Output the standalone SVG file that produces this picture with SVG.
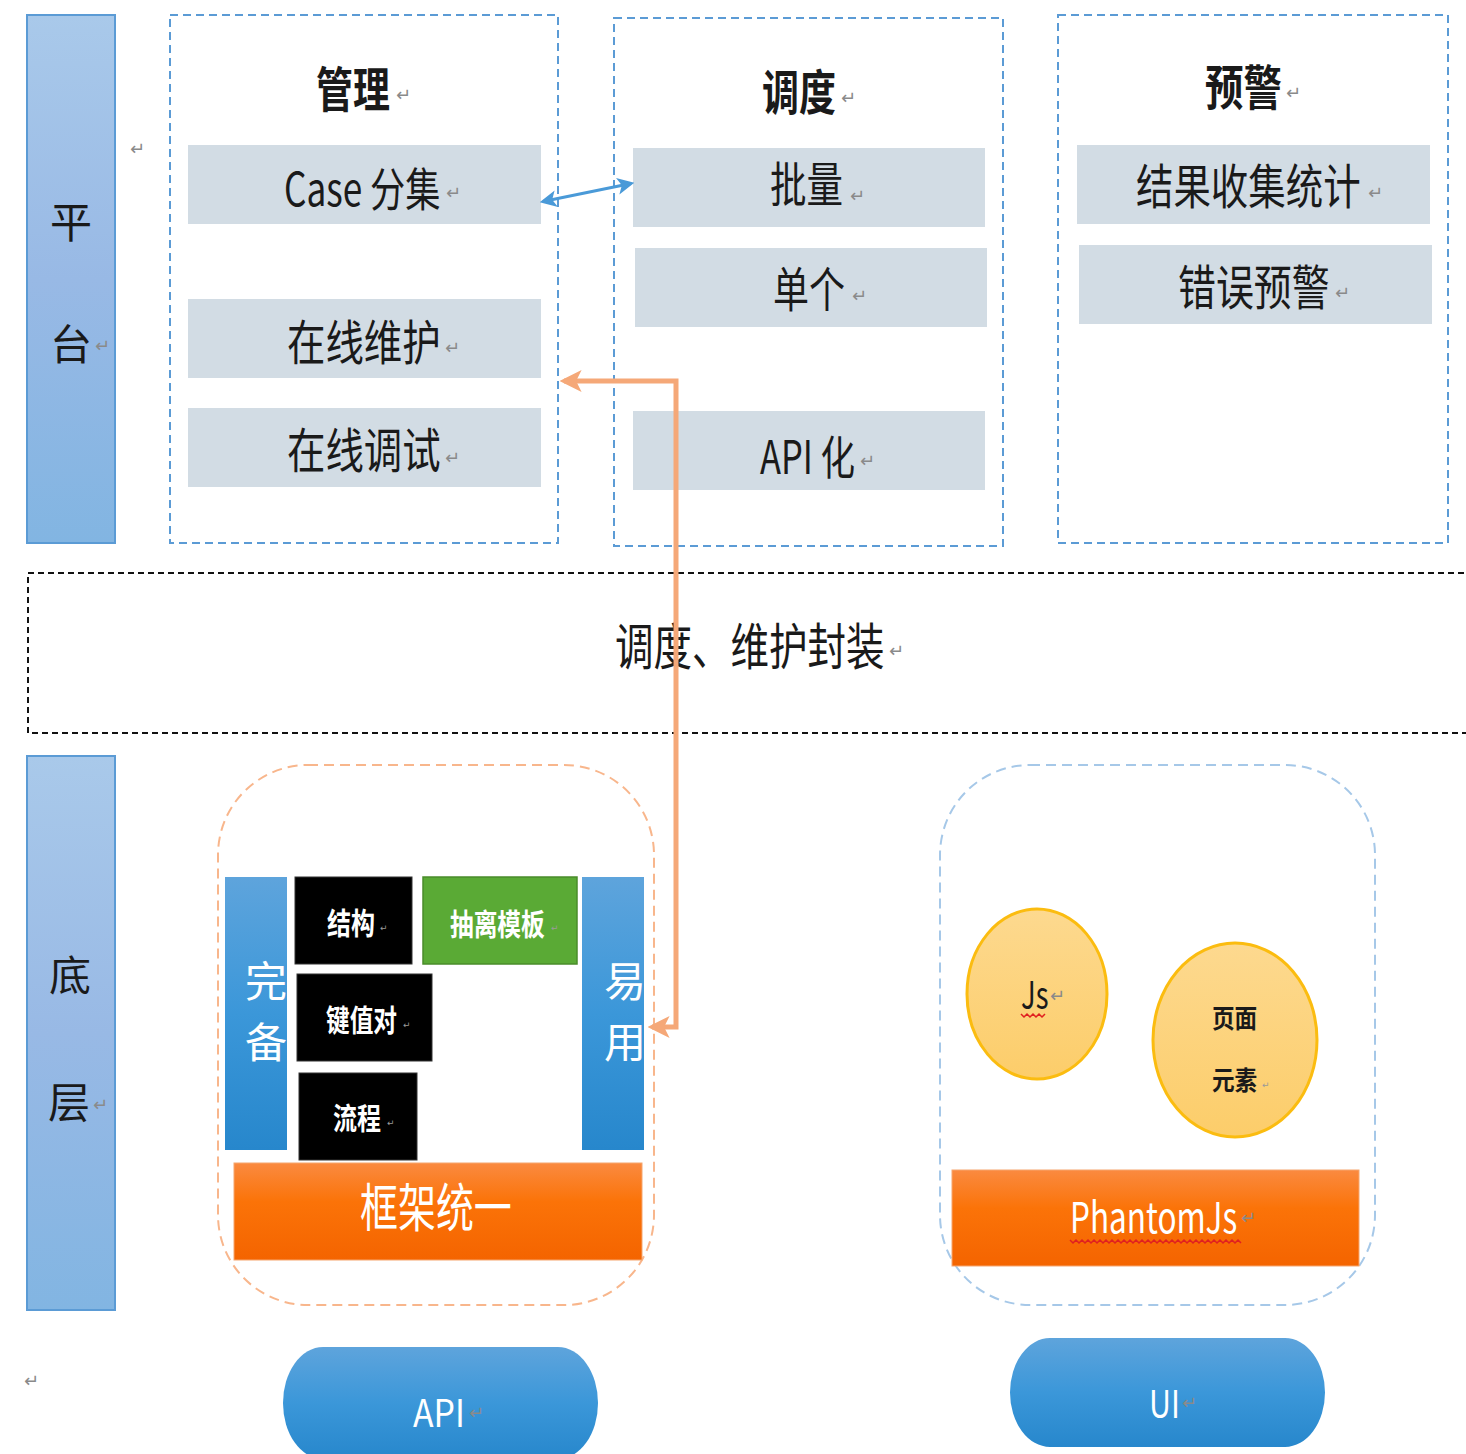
<svg xmlns="http://www.w3.org/2000/svg" width="1466" height="1454" viewBox="0 0 1466 1454">
<defs>
<linearGradient id="gBar" x1="0" y1="0" x2="0" y2="1"><stop offset="0" stop-color="#a9c9ea"/><stop offset="0.5" stop-color="#98b9e5"/><stop offset="1" stop-color="#82b5e2"/></linearGradient>
<linearGradient id="gBlue" x1="0" y1="0" x2="0" y2="1"><stop offset="0" stop-color="#5ea4dc"/><stop offset="0.5" stop-color="#3b97d9"/><stop offset="1" stop-color="#2787cc"/></linearGradient>
<linearGradient id="gOrange" x1="0" y1="0" x2="0" y2="1"><stop offset="0" stop-color="#fa8a40"/><stop offset="0.4" stop-color="#fb7308"/><stop offset="1" stop-color="#f46400"/></linearGradient>
<linearGradient id="gYellow" x1="0" y1="0" x2="0" y2="1"><stop offset="0" stop-color="#fdd98f"/><stop offset="1" stop-color="#fccd6a"/></linearGradient>
<marker id="ao" viewBox="0 0 10 10" refX="8" refY="5" markerWidth="22" markerHeight="24" markerUnits="userSpaceOnUse" orient="auto-start-reverse"><path d="M0,0 L10,5 L0,10 L2.5,5 Z" fill="#f5a878"/></marker>
<marker id="ab" viewBox="0 0 10 10" refX="8" refY="5" markerWidth="17" markerHeight="17" markerUnits="userSpaceOnUse" orient="auto-start-reverse"><path d="M0,0 L10,5 L0,10 L2.5,5 Z" fill="#4a9ad8"/></marker>
</defs>
<style>
.t{font-family:"Noto Sans CJK SC","Noto Sans",sans-serif;fill:#1a1a1a;dominant-baseline:central}
.w{fill:#ffffff}
.b{font-weight:700}
.pm{font-family:"DejaVu Sans","Noto Sans",sans-serif;fill:#8a8a8a;font-size:18px;dominant-baseline:central}
.pms{font-family:"DejaVu Sans","Noto Sans",sans-serif;fill:#9a9a9a;font-size:9px;dominant-baseline:central}
.grey{fill:#d2dce4}
.col{fill:none;stroke:#5b9bd5;stroke-width:2;stroke-dasharray:8 5}
.side{fill:url(#gBar);stroke:#5b9bd5;stroke-width:2}
.blk{fill:#000;stroke:#333;stroke-width:1}
.vblue{fill:url(#gBlue)}
.org{fill:url(#gOrange);stroke:#f6a66e;stroke-width:1}
.ell{fill:url(#gYellow);stroke:#fbbc10;stroke-width:3}
.sq{fill:none;stroke:#e02020;stroke-width:1.5}
</style>
<rect width="1466" height="1454" fill="#ffffff"/>

<g id="platform">
<rect class="side" x="27" y="15" width="88" height="528"/>
<text class="t" x="71" y="219" font-size="42" text-anchor="middle">平</text>
<text class="t" x="50" y="341" font-size="42">台</text>
<text class="pm" x="95" y="345">↵</text>
</g>
<text class="pm" x="130" y="148">↵</text>

<g id="manage">
<rect class="col" x="170" y="15" width="388" height="528"/>
<text class="t b" transform="translate(316,86) scale(0.77,1)" font-size="48">管理</text>
<text class="pm" x="396" y="94">↵</text>
</g>
<g id="case">
<rect class="grey" x="188" y="145" width="353" height="79"/>
<text class="t" transform="translate(284,186) scale(0.765,1)" font-size="46">Case 分集</text>
<text class="pm" x="446" y="192">↵</text>
</g>
<g id="online-maint">
<rect class="grey" x="188" y="299" width="353" height="79"/>
<text class="t" transform="translate(287,340) scale(0.8,1)" font-size="48">在线维护</text>
<text class="pm" x="445" y="347">↵</text>
</g>
<g id="online-debug">
<rect class="grey" x="188" y="408" width="353" height="79"/>
<text class="t" transform="translate(287,448) scale(0.8,1)" font-size="48">在线调试</text>
<text class="pm" x="445" y="457">↵</text>
</g>

<g id="schedule">
<rect class="col" x="614" y="18" width="389" height="528"/>
<text class="t b" transform="translate(762,89) scale(0.77,1)" font-size="48">调度</text>
<text class="pm" x="841" y="97">↵</text>
</g>
<g id="batch">
<rect class="grey" x="633" y="148" width="352" height="79"/>
<text class="t" transform="translate(770,181) scale(0.76,1)" font-size="48">批量</text>
<text class="pm" x="850" y="195">↵</text>
</g>
<g id="single">
<rect class="grey" x="635" y="248" width="352" height="79"/>
<text class="t" transform="translate(773,286) scale(0.75,1)" font-size="48">单个</text>
<text class="pm" x="852" y="295">↵</text>
</g>
<g id="apiize">
<rect class="grey" x="633" y="411" width="352" height="79"/>
<text class="t" transform="translate(760,454) scale(0.75,1)" font-size="46">API 化</text>
<text class="pm" x="860" y="460">↵</text>
</g>

<g id="alert">
<rect class="col" x="1058" y="15" width="390" height="528"/>
<text class="t b" transform="translate(1205,85) scale(0.8,1)" font-size="48">预警</text>
<text class="pm" x="1286" y="92">↵</text>
</g>
<g id="result">
<rect class="grey" x="1077" y="145" width="353" height="79"/>
<text class="t" transform="translate(1136,183) scale(0.78,1)" font-size="48">结果收集统计</text>
<text class="pm" x="1368" y="192">↵</text>
</g>
<g id="error-alert">
<rect class="grey" x="1079" y="245" width="353" height="79"/>
<text class="t" transform="translate(1178,284) scale(0.79,1)" font-size="48">错误预警</text>
<text class="pm" x="1335" y="292">↵</text>
</g>

<g id="wrap">
<rect x="28" y="573" width="1460" height="160" fill="none" stroke="#111" stroke-width="2" stroke-dasharray="6 4"/>
<text class="t" transform="translate(615,643) scale(0.77,1)" font-size="50">调度、维护封装</text>
<text class="pm" x="889" y="650">↵</text>
</g>

<g id="base">
<rect class="side" x="27" y="756" width="88" height="554"/>
<text class="t" x="70" y="972" font-size="42" text-anchor="middle">底</text>
<text class="t" x="48" y="1099" font-size="42">层</text>
<text class="pm" x="93" y="1104">↵</text>
</g>

<g id="api-group">
<rect x="218" y="765" width="436" height="540" rx="90" ry="90" fill="none" stroke="#f8b68c" stroke-width="2" stroke-dasharray="10 6"/>
</g>
<g id="complete">
<rect class="vblue" x="225" y="877" width="62" height="273"/>
<text class="t w" x="266" y="978" font-size="42" text-anchor="middle">完</text>
<text class="t w" x="266" y="1039" font-size="42" text-anchor="middle">备</text>
</g>
<g id="structure">
<rect class="blk" x="295" y="877" width="117" height="87"/>
<text class="t w b" transform="translate(327,921) scale(0.8,1)" font-size="30">结构</text>
<text class="pms" x="380" y="928">↵</text>
</g>
<g id="template">
<rect x="423" y="877" width="154" height="87" fill="#5aaa35" stroke="#4a8c2a" stroke-width="1.5"/>
<text class="t w b" transform="translate(450,922) scale(0.79,1)" font-size="30">抽离模板</text>
<text class="pms" x="551" y="928">↵</text>
</g>
<g id="kv">
<rect class="blk" x="297" y="974" width="135" height="87"/>
<text class="t w b" transform="translate(326,1018) scale(0.79,1)" font-size="30">键值对</text>
<text class="pms" x="403" y="1025">↵</text>
</g>
<g id="flow">
<rect class="blk" x="299" y="1073" width="118" height="87"/>
<text class="t w b" transform="translate(333,1116) scale(0.8,1)" font-size="30">流程</text>
<text class="pms" x="387" y="1123">↵</text>
</g>
<g id="easy">
<rect class="vblue" x="582" y="877" width="62" height="273"/>
<text class="t w" x="625" y="978" font-size="42" text-anchor="middle">易</text>
<text class="t w" x="625" y="1039" font-size="42" text-anchor="middle">用</text>
</g>
<g id="framework">
<rect class="org" x="234" y="1163" width="408" height="97"/>
<text class="t w" transform="translate(360,1204) scale(0.73,1)" font-size="52">框架统一</text>
</g>

<g id="ui-group">
<rect x="940" y="765" width="435" height="540" rx="90" ry="90" fill="none" stroke="#a6c8e8" stroke-width="2" stroke-dasharray="10 6"/>
</g>
<g id="js">
<ellipse class="ell" cx="1037" cy="994" rx="70" ry="85"/>
<text class="t" transform="translate(1021,993) scale(0.72,1)" font-size="38">Js</text>
<text class="pm" x="1050" y="995">↵</text>
<path class="sq" d="M1021,1014 l3,3 l3,-3 l3,3 l3,-3 l3,3 l3,-3 l3,3 l3,-3"/>
</g>
<g id="page-element">
<ellipse class="ell" cx="1235" cy="1040" rx="82" ry="97"/>
<text class="t b" transform="translate(1212,1017) scale(0.87,1)" font-size="26">页面</text>
<text class="t b" transform="translate(1212,1079) scale(0.87,1)" font-size="26">元素</text>
<text class="pms" x="1262" y="1085">↵</text>
</g>
<g id="phantomjs">
<rect class="org" x="952" y="1170" width="407" height="96"/>
<text class="t w" transform="translate(1070,1215) scale(0.75,1)" font-size="42">PhantomJs</text>
<text class="pm" x="1241" y="1217">↵</text>
<path class="sq" d="M1070,1240 l3,3 l3,-3 l3,3 l3,-3 l3,3 l3,-3 l3,3 l3,-3 l3,3 l3,-3 l3,3 l3,-3 l3,3 l3,-3 l3,3 l3,-3 l3,3 l3,-3 l3,3 l3,-3 l3,3 l3,-3 l3,3 l3,-3 l3,3 l3,-3 l3,3 l3,-3 l3,3 l3,-3 l3,3 l3,-3 l3,3 l3,-3 l3,3 l3,-3 l3,3 l3,-3 l3,3 l3,-3 l3,3 l3,-3 l3,3 l3,-3 l3,3 l3,-3 l3,3 l3,-3 l3,3 l3,-3 l3,3 l3,-3 l3,3 l3,-3 l3,3 l3,-3 l3,3"/>
</g>

<g id="api">
<path class="vblue" d="M323,1347 H558 A40,56 0 0 1 558,1459 H323 A40,56 0 0 1 323,1347 Z"/>
<text class="t w" transform="translate(413,1410) scale(0.89,1)" font-size="38">API</text>
<text class="pm" x="469" y="1412">↵</text>
</g>
<g id="ui">
<path class="vblue" d="M1050,1338 H1285 A40,54.5 0 0 1 1285,1447 H1050 A40,54.5 0 0 1 1050,1338 Z"/>
<text class="t w" transform="translate(1149,1401) scale(0.8,1)" font-size="38">UI</text>
<text class="pm" x="1182" y="1402">↵</text>
</g>
<text class="pm" x="24" y="1380">↵</text>

<g id="connectors">
<path d="M543,201.5 L631,183.5" fill="none" stroke="#4a9ad8" stroke-width="3" marker-start="url(#ab)" marker-end="url(#ab)"/>
<path d="M652,1027 H676 V381 H564" fill="none" stroke="#f5a878" stroke-width="5" marker-start="url(#ao)" marker-end="url(#ao)"/>
</g>
</svg>
